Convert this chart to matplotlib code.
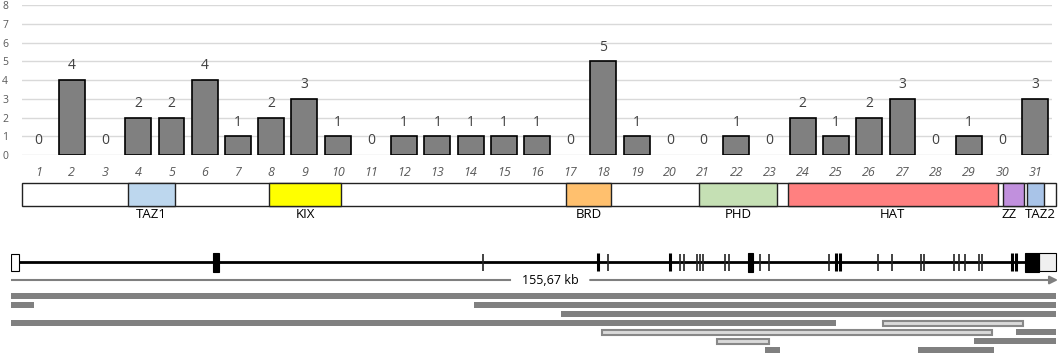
import matplotlib.pyplot as plt
from matplotlib.patches import Rectangle

plt.rcParams['font.family'] = ['Open Sans', 'DejaVu Sans']

# variants per exon
exons = list(range(1, 32))
counts = [0, 4, 0, 2, 2, 4, 1, 2, 3, 1, 0, 1, 1, 1, 1, 1, 0, 5, 1, 0,
          0, 1, 0, 2, 1, 2, 3, 0, 1, 0, 3]

# protein domains, in exon units along the same axis
protein_end = 31.62
dom_names = ['TAZ1', 'KIX', 'BRD', 'PHD', 'HAT', 'ZZ', 'TAZ2']
dom_start = [3.69, 7.93, 16.87, 20.88, 23.55, 30.03, 30.75]
dom_end = [5.10, 10.10, 18.23, 23.22, 29.87, 30.66, 31.26]
dom_label_x = [4.40, 9.02, 17.55, 22.05, 26.71, 30.20, 31.14]
dom_colors = ['#bdd7ee', '#ffff00', '#ffc06e', '#c5e0b4', '#ff8080', '#c190dd', '#a9c4e8']

# gene structure (kb)
gene_len = 155.67
utr5 = (0.0, 1.19)
exon_boxes = [(30.03, 30.93), (109.62, 110.27), (150.76, 152.89)]
utr3 = (152.89, 155.4)
thick_ex = [87.23, 97.98, 122.66, 123.25, 148.87, 149.38]
thin_ex = [70.13, 88.72, 99.46, 100.0, 101.95, 102.44, 102.89, 106.16, 106.80,
           111.36, 112.74, 121.66, 128.86, 131.03, 135.30, 135.70, 140.25,
           140.99, 141.88, 143.92, 144.41]

# transcripts: (row, start kb, end kb, kind)
tr_row = [0, 1, 1, 2, 3, 3, 4, 4, 5, 5, 6, 6]
tr_start = [0.0, 0.0, 68.84, 81.73, 0.0, 129.6, 87.91, 149.38, 104.92, 143.22, 112.1, 134.81]
tr_end = [155.4, 3.42, 155.4, 155.4, 122.66, 150.42, 145.81, 155.4, 112.74, 155.4, 114.33, 146.2]
tr_kind = ['s', 's', 's', 's', 's', 'd', 'd', 's', 'd', 's', 's', 's']

W, H = 1059, 356
fig = plt.figure(figsize=(W / 100, H / 100), dpi=100)

# bar chart
ax = fig.add_axes([22 / W, 1 - 155 / H, 1030 / W, 150 / H])
ax.bar(exons, counts, width=0.78, color='#808080', edgecolor='black',
       linewidth=[1.2 if c > 0 else 0 for c in counts], zorder=3)
for x, c in zip(exons, counts):
    ax.text(x, c + 0.75, str(c), ha='center', va='center', fontsize=10, color='#404040')
ax.set_xlim(0.5, 31.5)
ax.set_ylim(0, 8)
ax.set_yticks(range(0, 9))
ax.grid(axis='y', color='#d9d9d9', linewidth=1, zorder=0)
ax.set_xticks(exons)
ax.set_xticklabels([str(e) for e in exons], fontstyle='italic', fontsize=9, color='#595959')
ax.tick_params(axis='x', length=0, pad=8)
ax.tick_params(axis='y', length=0, pad=10, labelsize=7.5, labelcolor='#595959')
for s in ax.spines.values():
    s.set_visible(False)

# domain bar
axd = fig.add_axes([22 / W, 1 - 206 / H, 1030 / W, 23 / H])
axd.set_xlim(0.5, 31.5)
axd.set_ylim(0, 1)
axd.axis('off')
axd.add_patch(Rectangle((0.5, 0), protein_end - 0.5, 1, facecolor='white',
                        edgecolor='#222222', linewidth=1, clip_on=False))
for n, a, b, lx, col in zip(dom_names, dom_start, dom_end, dom_label_x, dom_colors):
    axd.add_patch(Rectangle((a, 0), b - a, 1, facecolor=col, edgecolor='#222222',
                            linewidth=1, clip_on=False))
    axd.text(lx, -0.35, n, ha='center', va='center', fontsize=9.5, color='black',
             clip_on=False)

# gene and transcripts
axg = fig.add_axes([11 / W, 0, 1047 / W, 111 / H])
axg.set_xlim(0, gene_len)
axg.set_ylim(111, 0)
axg.axis('off')
gy = 17
axg.plot([utr5[1], utr3[0]], [gy, gy], color='black', linewidth=2, zorder=1)
axg.add_patch(Rectangle((utr5[0], gy - 8.5), utr5[1] - utr5[0], 17, facecolor='white',
                        edgecolor='black', linewidth=0.8, zorder=2))
axg.add_patch(Rectangle((utr3[0], gy - 9), utr3[1] - utr3[0], 18, facecolor='#f0f0f0',
                        edgecolor='black', linewidth=0.8, zorder=2))
for a, b in exon_boxes:
    axg.add_patch(Rectangle((a, gy - 9.5), b - a, 19, facecolor='black',
                            edgecolor='black', linewidth=0.8, zorder=3))
axg.vlines(thick_ex, gy - 9, gy + 9, color='black', linewidth=2.2, zorder=3)
axg.vlines(thin_ex, gy - 8.5, gy + 8.5, color='#222222', linewidth=1.2, zorder=3)

# length scale with a gap for its label
sy = 35
gap = (74.2, 86.1)
axg.plot([0, gap[0]], [sy, sy], color='#7f7f7f', linewidth=1.5)
axg.annotate('', xy=(gene_len, sy), xytext=(gap[1], sy),
             arrowprops=dict(arrowstyle='-|>', color='#7f7f7f', lw=1.5,
                             mutation_scale=12, shrinkA=0, shrinkB=0))
axg.text(sum(gap) / 2, sy, '155,67 kb', ha='center', va='center', fontsize=9, color='black')

for r, a, b, k in zip(tr_row, tr_start, tr_end, tr_kind):
    y = 51 + 9 * r
    if k == 's':
        axg.add_patch(Rectangle((a, y - 3), b - a, 6, facecolor='#808080', edgecolor='none'))
    else:
        axg.add_patch(Rectangle((a, y - 2.5), b - a, 5, facecolor='#dadada',
                                edgecolor='#888888', linewidth=1.5))

fig.savefig('out.png', dpi=100)
